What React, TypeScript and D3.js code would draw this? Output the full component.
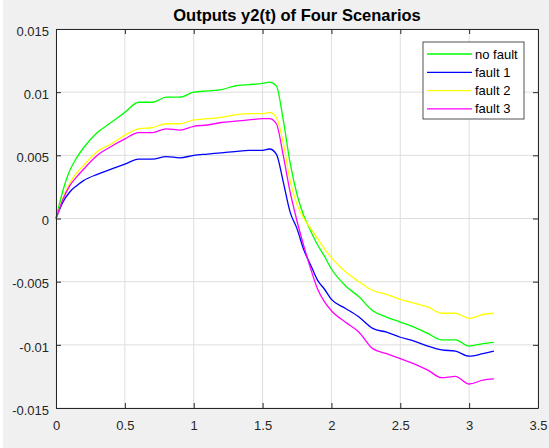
import React, { useEffect, useRef } from "react";
import * as d3 from "d3";

// time samples (s)
const time = [
  0, 0.05, 0.1, 0.15, 0.2, 0.3, 0.4, 0.5, 0.6, 0.7, 0.8, 0.9, 1.0, 1.1, 1.2, 1.3, 1.4, 1.5, 1.55, 1.6,
  1.65, 1.7, 1.75, 1.8, 1.85, 1.9, 1.95, 2.0, 2.1, 2.2, 2.3, 2.4, 2.5, 2.6, 2.7, 2.8, 2.9, 3.0, 3.1, 3.18,
];

const noFault = [
  0, 0.0022, 0.0038, 0.0048, 0.0056, 0.0068, 0.0076, 0.0084, 0.0092, 0.0092, 0.0096, 0.0096, 0.01, 0.0101,
  0.0102, 0.0105, 0.0106, 0.0107, 0.0108, 0.0105, 0.0078, 0.0044, 0.0019, 0.0002, -0.001, -0.0021, -0.003,
  -0.004, -0.0053, -0.0062, -0.0073, -0.0078, -0.0082, -0.0086, -0.0091, -0.0096, -0.0096, -0.0101, -0.0099,
  -0.0098,
];

const fault1 = [
  0, 0.0013, 0.0021, 0.0026, 0.003, 0.0035, 0.0039, 0.0043, 0.0047, 0.0047, 0.0049, 0.0048, 0.005, 0.0051,
  0.0052, 0.0053, 0.0054, 0.0054, 0.0055, 0.0051, 0.0029, 0.0005, -0.0008, -0.0025, -0.0037, -0.0049,
  -0.0056, -0.0064, -0.0071, -0.0078, -0.0087, -0.009, -0.0094, -0.0097, -0.0101, -0.0104, -0.0105, -0.0109,
  -0.0107, -0.0105,
];

const fault2 = [
  0, 0.0016, 0.0028, 0.0036, 0.0042, 0.0053, 0.0059, 0.0066, 0.0071, 0.0072, 0.0075, 0.0075, 0.0078, 0.0079,
  0.008, 0.0082, 0.0083, 0.0083, 0.0084, 0.008, 0.006, 0.003, 0.0011, 0.0, -0.0008, -0.0016, -0.0024,
  -0.0031, -0.0042, -0.005, -0.0057, -0.006, -0.0064, -0.0067, -0.007, -0.0075, -0.0075, -0.0079, -0.0076,
  -0.0075,
];

const fault3 = [
  0, 0.0015, 0.0026, 0.0033, 0.0039, 0.005, 0.0057, 0.0063, 0.0068, 0.0068, 0.0071, 0.007, 0.0073, 0.0074,
  0.0076, 0.0077, 0.0078, 0.0079, 0.0079, 0.0075, 0.005, 0.0021, -0.0002, -0.0022, -0.004, -0.0056, -0.0066,
  -0.0073, -0.0082, -0.009, -0.0103, -0.0107, -0.0111, -0.0115, -0.012, -0.0126, -0.0125, -0.0131, -0.0128,
  -0.0127,
];

const seriesNames = ["no fault", "fault 1", "fault 2", "fault 3"];
const seriesValues = [noFault, fault1, fault2, fault3];
const seriesColors = ["#00ff00", "#0000ff", "#ffff00", "#ff00ff"];

const xTicks = [0, 0.5, 1, 1.5, 2, 2.5, 3, 3.5];
const yTicks = [-0.015, -0.01, -0.005, 0, 0.005, 0.01, 0.015];

const W = 549;
const H = 448;
const margin = { top: 29, right: 11, bottom: 40, left: 56 };
const axisColor = "#262626";
const font = "Arial, 'Liberation Sans', Helvetica, sans-serif";

export default function App() {
  const ref = useRef<SVGSVGElement | null>(null);

  useEffect(() => {
    const svg = d3.select(ref.current);
    svg.selectAll("*").remove();

    const iw = W - margin.left - margin.right;
    const ih = H - margin.top - margin.bottom;

    // figure background
    svg.append("rect").attr("width", W).attr("height", H).attr("fill", "#ffffff");
    svg.append("rect").attr("x", 3).attr("width", W - 3).attr("height", H).attr("fill", "#f0f0f0");

    const g = svg.append("g").attr("transform", `translate(${margin.left},${margin.top})`);

    const x = d3.scaleLinear().domain([0, 3.5]).range([0, iw]);
    const y = d3.scaleLinear().domain([-0.015, 0.015]).range([ih, 0]);

    g.append("rect").attr("width", iw).attr("height", ih).attr("fill", "#ffffff");

    // grid
    g.selectAll(".gx")
      .data(xTicks)
      .join("line")
      .attr("x1", (d) => x(d))
      .attr("x2", (d) => x(d))
      .attr("y1", 0)
      .attr("y2", ih)
      .attr("stroke", "#dedede")
      .attr("stroke-width", 1);
    g.selectAll(".gy")
      .data(yTicks)
      .join("line")
      .attr("y1", (d) => y(d))
      .attr("y2", (d) => y(d))
      .attr("x1", 0)
      .attr("x2", iw)
      .attr("stroke", "#dedede")
      .attr("stroke-width", 1);

    // lines
    const line = d3
      .line<number>()
      .x((_, i) => x(time[i]))
      .y((d) => y(d))
      .curve(d3.curveMonotoneX);

    seriesValues.forEach((vals, k) => {
      g.append("path")
        .datum(vals)
        .attr("fill", "none")
        .attr("stroke", seriesColors[k])
        .attr("stroke-width", 1.3)
        .attr("d", line);
    });

    // axes box with inward ticks on all sides
    const tl = 5;
    const bottom = g
      .append("g")
      .attr("transform", `translate(0,${ih})`)
      .call(d3.axisBottom(x).tickValues(xTicks).tickSizeInner(-tl).tickSizeOuter(0).tickPadding(13).tickFormat(d3.format("")));
    const left = g
      .append("g")
      .call(
        d3
          .axisLeft(y)
          .tickValues(yTicks)
          .tickSizeInner(-tl)
          .tickSizeOuter(0)
          .tickPadding(7)
          .tickFormat((d) => String(+(+d).toFixed(3)))
      );
    const top = g
      .append("g")
      .call(d3.axisTop(x).tickValues(xTicks).tickSizeInner(-tl).tickSizeOuter(0).tickFormat(() => ""));
    const right = g
      .append("g")
      .attr("transform", `translate(${iw},0)`)
      .call(d3.axisRight(y).tickValues(yTicks).tickSizeInner(-tl).tickSizeOuter(0).tickFormat(() => ""));

    [bottom, left, top, right].forEach((a) => {
      a.select(".domain").attr("stroke", axisColor);
      a.selectAll(".tick line").attr("stroke", axisColor);
      a.selectAll("text").attr("fill", axisColor).attr("font-size", 13).attr("font-family", font);
    });
    left.selectAll("text").attr("dy", "0.48em");

    // title
    svg
      .append("text")
      .attr("x", margin.left + iw / 2)
      .attr("y", 21)
      .attr("text-anchor", "middle")
      .attr("font-family", font)
      .attr("font-weight", "bold")
      .attr("font-size", 16.5)
      .attr("fill", "#000000")
      .text("Outputs y2(t) of Four Scenarios");

    // legend
    const lg = svg.append("g").attr("transform", "translate(423,42)");
    lg.append("rect")
      .attr("width", 101)
      .attr("height", 77)
      .attr("fill", "#ffffff")
      .attr("stroke", axisColor)
      .attr("stroke-width", 0.8);
    seriesNames.forEach((name, k) => {
      const yy = 12 + k * 18.3;
      lg.append("line")
        .attr("x1", 4)
        .attr("x2", 49)
        .attr("y1", yy)
        .attr("y2", yy)
        .attr("stroke", seriesColors[k])
        .attr("stroke-width", 1.3);
      lg.append("text")
        .attr("x", 52)
        .attr("y", yy)
        .attr("dy", "0.35em")
        .attr("font-family", font)
        .attr("font-size", 13)
        .attr("fill", "#000000")
        .text(name);
    });
  }, []);

  return (
    <svg
      ref={ref}
      width={W}
      height={H}
      style={{ position: "absolute", left: 0, top: 0, display: "block" }}
    />
  );
}
